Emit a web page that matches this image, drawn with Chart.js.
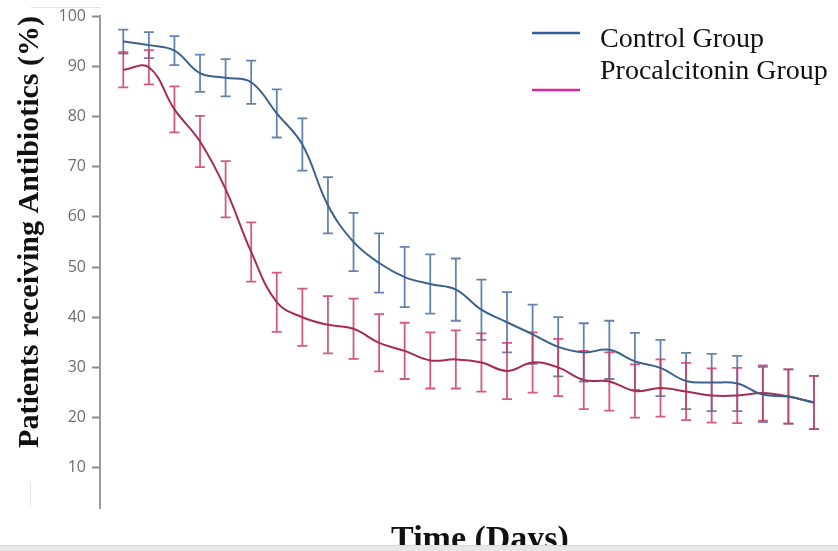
<!DOCTYPE html>
<html>
<head>
<meta charset="utf-8">
<script src="https://cdn.jsdelivr.net/npm/chart.js@4.4.0/dist/chart.umd.min.js"></script>
<style>
body{margin:0;background:#fff;}
#wrap{position:relative;width:838px;height:551px;overflow:hidden;}
.edge{position:absolute;background:#e6e6e6;}
</style>
</head>
<body>
<div id="wrap">
<canvas id="myChart" width="838" height="551"></canvas>
<div class="edge" style="left:31px;top:7px;width:70px;height:1px"></div>
<div class="edge" style="left:30px;top:482px;width:1px;height:26px"></div>
<div class="edge" style="left:0;top:545px;width:838px;height:6px;background:#e9e7e5;border-top:1px solid #dad8d6"></div>
</div>
<script>
// values
const days = [0,1,2,3,4,5,6,7,8,9,10,11,12,13,14,15,16,17,18,19,20,21,22,23,24,25,26,27];
const controlMean = [94.9,94.2,93.1,88.6,87.7,86.8,80.6,74.4,62.3,55.0,50.8,48.0,46.6,45.5,41.5,39.0,36.6,34.1,33.0,33.5,31.2,29.9,27.3,27.0,26.8,24.6,24.2,23.0];
const controlErr = [2.4,2.6,2.9,3.7,3.7,4.3,4.8,5.2,5.6,5.8,5.9,6.0,5.9,6.2,6.0,6.0,5.9,5.9,5.8,5.8,5.7,5.6,5.6,5.7,5.5,5.5,5.4,5.3];
const procalMean = [89.3,89.8,81.4,75.0,65.5,53.0,43.0,40.0,38.5,37.7,34.9,33.3,31.4,31.6,31.0,29.3,31.0,30.0,27.5,27.2,25.3,25.9,25.2,24.4,24.4,24.9,24.2,23.0];
const procalErr = [3.5,3.4,4.6,5.1,5.6,5.9,5.9,5.7,5.7,6.0,5.7,5.6,5.6,5.8,5.8,5.6,6.0,5.7,5.8,5.8,5.3,5.7,5.7,5.4,5.5,5.5,5.4,5.3];
const yTicks = [10,20,30,40,50,60,70,80,90,100];
const seriesNames = ["Control Group", "Procalcitonin Group"];
const xTitle = "Time (Days)";

const errorBars = {
  id: 'errorBars',
  beforeDatasetsDraw(chart) {
    const ctx = chart.ctx;
    const y = chart.scales.y;
    chart.data.datasets.forEach((ds, i) => {
      const meta = chart.getDatasetMeta(i);
      ctx.save();
      ctx.strokeStyle = ds.errorColor;
      ctx.lineWidth = 1.8;
      meta.data.forEach((pt, j) => {
        const v = ds.data[j].y;
        const t = y.getPixelForValue(v + ds.errors[j]);
        const b = y.getPixelForValue(v - ds.errors[j]);
        ctx.beginPath();
        ctx.moveTo(pt.x, t); ctx.lineTo(pt.x, b);
        ctx.moveTo(pt.x - 5, t); ctx.lineTo(pt.x + 5, t);
        ctx.moveTo(pt.x - 5, b); ctx.lineTo(pt.x + 5, b);
        ctx.stroke();
      });
      ctx.restore();
    });
  }
};

// legend at top right + x title (sits off-centre in the original)
const sideLegend = {
  id: 'sideLegend',
  afterDraw(chart) {
    const ctx = chart.ctx;
    const cols = ['#2f5f9f', '#e2229a'];
    const lineY = [33, 90];
    const textY = [47, 79];
    ctx.save();
    ctx.font = '28px "Liberation Serif"';
    ctx.fillStyle = '#111';
    ctx.textBaseline = 'alphabetic';
    chart.data.datasets.forEach((ds, i) => {
      ctx.strokeStyle = cols[i];
      ctx.lineWidth = 2.5;
      ctx.beginPath();
      ctx.moveTo(532, lineY[i]); ctx.lineTo(580, lineY[i]);
      ctx.stroke();
      ctx.fillText(ds.label, 600, textY[i]);
    });
    ctx.font = 'bold 34px "Liberation Serif"';
    ctx.textAlign = 'center';
    ctx.fillText(xTitle, 480, 549);
    ctx.restore();
  }
};

new Chart("myChart", {
  type: "line",
  data: {
    datasets: [{
      label: seriesNames[0],
      data: days.map((d, i) => ({x: d, y: controlMean[i]})),
      errors: controlErr,
      borderColor: "rgba(58,98,140,1.0)",
      errorColor: "rgba(70,110,160,0.85)",
      borderWidth: 2,
      pointRadius: 0,
      tension: 0.4
    }, {
      label: seriesNames[1],
      data: days.map((d, i) => ({x: d, y: procalMean[i]})),
      errors: procalErr,
      borderColor: "rgba(165,45,85,1.0)",
      errorColor: "rgba(205,60,105,0.85)",
      borderWidth: 2,
      pointRadius: 0,
      tension: 0.4
    }]
  },
  options: {
    responsive: false,
    animation: false,
    layout: { padding: { left: 0, top: 16, right: 2, bottom: 0 } },
    plugins: { legend: { display: false }, tooltip: { enabled: false } },
    scales: {
      x: {
        type: 'linear',
        min: -0.91,
        max: 27.86,
        ticks: { display: false },
        grid: { display: false },
        border: { display: false },
        afterFit: (s) => { s.height = 43; }
      },
      y: {
        min: 2,
        max: 100,
        afterBuildTicks: (s) => { s.ticks = yTicks.map(v => ({value: v})); },
        ticks: { color: '#6e6e6e', padding: 6, font: { family: 'Open Sans', size: 16 } },
        grid: { drawOnChartArea: false, tickLength: 8, tickColor: '#8a8a8a', tickWidth: 2 },
        border: { color: '#9a9a9a', width: 2 },
        title: {
          display: true,
          text: 'Patients receiving Antibiotics (%)',
          align: 'end',
          color: '#111',
          font: { family: 'Liberation Serif', size: 30, weight: 'bold', lineHeight: 1.2 },
          padding: { top: 12, bottom: 0 }
        },
        afterFit: (s) => { s.width = 100; }
      }
    }
  },
  plugins: [errorBars, sideLegend]
});
</script>
</body>
</html>
